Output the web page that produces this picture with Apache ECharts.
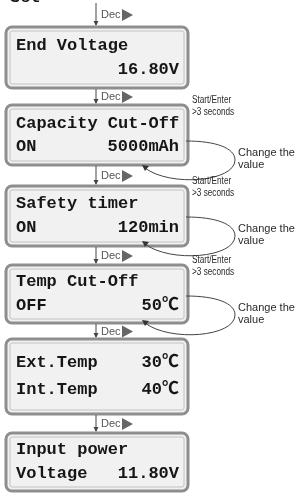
<!DOCTYPE html>
<html>
<head>
<meta charset="utf-8">
<script src="https://cdn.jsdelivr.net/npm/echarts@6/dist/echarts.min.js"></script>
<style>
  html, body { margin: 0; padding: 0; background: #fff; }
  #main { width: 305px; height: 493px; overflow: hidden; }
</style>
</head>
<body>
<div id="main"></div>
<script>
  // screen texts, top to bottom
  var titles = ['End Voltage', 'Capacity Cut-Off', 'Safety timer', 'Temp Cut-Off', 'Ext.Temp', 'Input power'];
  var titleValues = ['', '', '', '', '30\u2103', ''];
  var labels = ['', 'ON', 'ON', 'OFF', 'Int.Temp', 'Voltage'];
  var values = ['16.80V', '5000mAh', '120min', '50\u2103', '40\u2103', '11.80V'];
  var editable = [false, true, true, true, false, false];
  var stepLabel = 'Dec';
  var topText = 'Set';
  var holdText = ['Start/Enter', '>3 seconds'];
  var changeText = ['Change the', 'value'];

  // layout
  var boxLeft = 6, boxRight = 188;
  var boxTop = [27, 105, 186, 265, 339, 433];
  var boxHeight = [61, 60, 60, 58, 75, 58];
  var rowGap = [24, 23, 24, 24, 27, 24];
  var loopStart = [36, 31, 31];
  var arrowX = 96;
  var lcdFont = '"Liberation Mono", "Noto Sans CJK SC", monospace';
  var noteFont = '"Liberation Sans", Arial, sans-serif';

  function lcdText(x, y, s, align) {
    return {
      type: 'text', x: x, y: y,
      style: { text: s, fill: '#161616', font: 'bold 17px ' + lcdFont, textAlign: align, textVerticalAlign: 'middle' }
    };
  }

  function noteText(x, y, s, size, sx) {
    return {
      type: 'text', x: x, y: y, scaleX: sx || 1,
      style: { text: s, fill: '#2a2a2a', font: size + 'px ' + noteFont, textAlign: 'left', textVerticalAlign: 'middle' }
    };
  }

  function decText(x, y) {
    return {
      type: 'text', x: x, y: y,
      style: { text: stepLabel, fill: '#555', font: '11px ' + noteFont, textAlign: 'left', textVerticalAlign: 'middle' }
    };
  }

  function stepArrow(y0, y1) {
    var mid = (y0 + y1) / 2;
    return [
      { type: 'line', shape: { x1: arrowX, y1: y0, x2: arrowX, y2: y1 - 2 }, style: { stroke: '#444', lineWidth: 1 } },
      { type: 'polygon', shape: { points: [[arrowX - 2.5, y1 - 6], [arrowX + 2.5, y1 - 6], [arrowX, y1 - 1]] }, style: { fill: '#444' } },
      decText(arrowX + 5, mid),
      { type: 'polygon', shape: { points: [[arrowX + 26, mid - 6], [arrowX + 26, mid + 6], [arrowX + 37, mid]] }, style: { fill: '#666' } }
    ];
  }

  function editLoop(top, i) {
    var a = top + loopStart[i];
    var els = [];
    els.push(noteText(192, top - 5, holdText[0], 10, 0.82));
    els.push(noteText(192, top + 7, holdText[1], 10, 0.82));
    els.push(noteText(238, a + 12, changeText[0], 11));
    els.push(noteText(238, a + 24, changeText[1], 11));
    els.push({ type: 'bezierCurve', shape: { x1: boxRight - 2, y1: a, cpx1: 216, cpy1: a, cpx2: 235, cpy2: a + 7, x2: 235, y2: a + 19 }, style: { stroke: '#444', lineWidth: 1, fill: null } });
    els.push({ type: 'bezierCurve', shape: { x1: 235, y1: a + 19, cpx1: 235, cpy1: a + 41, cpx2: 170, cpy2: a + 46, x2: 145, y2: a + 27 }, style: { stroke: '#444', lineWidth: 1, fill: null } });
    els.push({ type: 'polygon', shape: { points: [[142, a + 24], [149, a + 25], [145, a + 30]] }, style: { fill: '#333' } });
    return els;
  }

  function buildGraphic() {
    var els = [];
    els.push(lcdText(10, -2, topText, 'left'));
    els.push.apply(els, stepArrow(3, boxTop[0]));
    for (var i = 0; i < titles.length; i++) {
      var t = boxTop[i], h = boxHeight[i];
      els.push({ type: 'rect', shape: { x: boxLeft + 1, y: t + 1, width: boxRight - boxLeft, height: h, r: 6 }, style: { fill: '#d8d8d8' } });
      els.push({ type: 'rect', shape: { x: boxLeft, y: t, width: boxRight - boxLeft, height: h, r: 6 }, style: { fill: '#f1f1f1', stroke: '#8e8e8e', lineWidth: 3 } });
      els.push({ type: 'rect', shape: { x: boxLeft + 4, y: t + 4, width: boxRight - boxLeft - 8, height: h - 8, r: 2 }, style: { fill: 'none', stroke: '#c2c2c2', lineWidth: 1 } });
      var r1 = t + h / 2 - rowGap[i] / 2, r2 = t + h / 2 + rowGap[i] / 2;
      els.push(lcdText(16, r1, titles[i], 'left'));
      if (titleValues[i]) els.push(lcdText(179, r1, titleValues[i], 'right'));
      if (labels[i]) els.push(lcdText(16, r2, labels[i], 'left'));
      els.push(lcdText(179, r2, values[i], 'right'));
      if (i < titles.length - 1) els.push.apply(els, stepArrow(t + h + 1, boxTop[i + 1]));
      if (editable[i]) els.push.apply(els, editLoop(t, i - 1));
    }
    return els;
  }

  var myChart = echarts.init(document.getElementById('main'), null, { renderer: 'canvas' });
  myChart.setOption({
    backgroundColor: '#fff',
    animation: false,
    graphic: { elements: buildGraphic() }
  });
</script>
</body>
</html>
